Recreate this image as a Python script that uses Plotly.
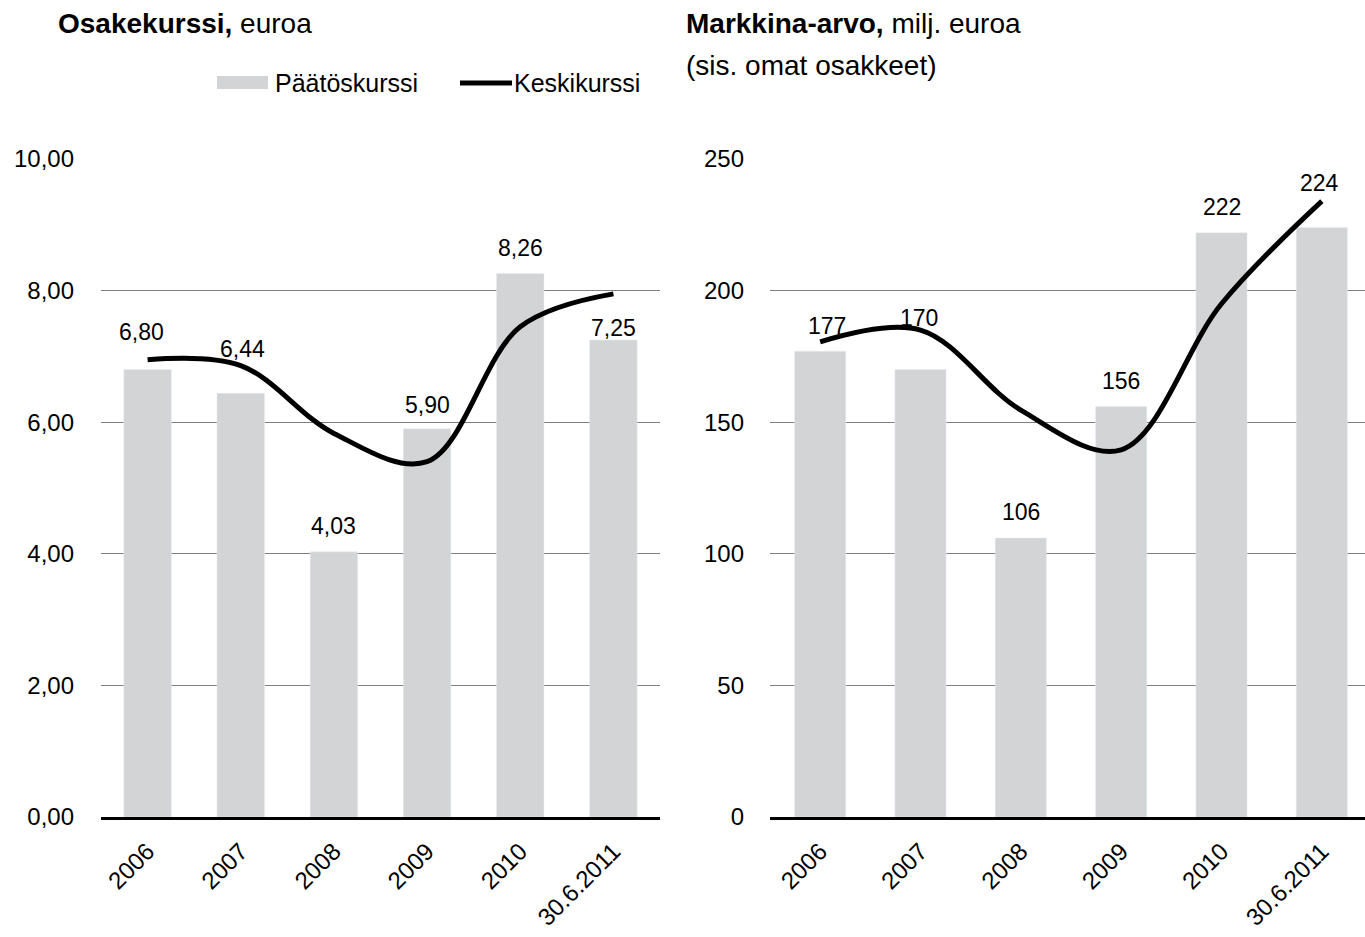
import plotly.graph_objects as go

# ---------------- data ----------------
categories = ["2006", "2007", "2008", "2009", "2010", "30.6.2011"]
closing_price = [6.80, 6.44, 4.03, 5.90, 8.26, 7.25]          # Päätöskurssi
average_price = [6.95, 6.86, 5.83, 5.40, 7.45, 7.95]          # Keskikurssi
market_cap = [177, 170, 106, 156, 222, 224]                   # Markkina-arvo (bars)
market_cap_line = [180.5, 185.0, 154.6, 139.5, 195.0, 234.0]  # Markkina-arvo (line)
price_labels = ["6,80", "6,44", "4,03", "5,90", "8,26", "7,25"]
cap_labels = ["177", "170", "106", "156", "222", "224"]
price_tickvals = [0, 2, 4, 6, 8, 10]
price_ticktext = ["0,00", "2,00", "4,00", "6,00", "8,00", "10,00"]
cap_tickvals = [0, 50, 100, 150, 200, 250]
cap_ticktext = ["0", "50", "100", "150", "200", "250"]

# ---------------- styles ----------------
W, H = 1365, 937
TOP, BOTTOM = 159, 817
BAR_COLOR = "#d3d4d6"
GRID = "#7f7f7f"
FONT = "Liberation Sans, Arial, sans-serif"

# label offsets in pixels (dx, dy above bar top)
price_off = [(-6, 38), (2, 44), (0, 26), (0, 24), (0, 25), (0, 12)]
cap_off = [(7, 25), (-2, 52), (0, 26), (0, 25), (0, 26), (-2, 44)]


def py(p):  # pixel y -> paper y
    return (BOTTOM - p) / (BOTTOM - TOP)


def px(p):
    return p / W


fig = go.Figure()

fig.add_trace(go.Bar(x=categories, y=closing_price, marker_color=BAR_COLOR,
                     name="Päätöskurssi", xaxis="x", yaxis="y", showlegend=False))
fig.add_trace(go.Scatter(x=categories, y=average_price, mode="lines",
                         line=dict(color="black", width=5, shape="spline", smoothing=1.0),
                         name="Keskikurssi", xaxis="x", yaxis="y", showlegend=False))
fig.add_trace(go.Bar(x=categories, y=market_cap, marker_color=BAR_COLOR,
                     name="Markkina-arvo", xaxis="x2", yaxis="y2", showlegend=False))
fig.add_trace(go.Scatter(x=categories, y=market_cap_line, mode="lines",
                         line=dict(color="black", width=5, shape="spline", smoothing=1.0),
                         name="Markkina-arvo, keskim.", xaxis="x2", yaxis="y2", showlegend=False))

annotations = []
for i, (v, t, (dx, dy)) in enumerate(zip(closing_price, price_labels, price_off)):
    annotations.append(dict(x=i, y=v, xref="x", yref="y", text=t, showarrow=False,
                            xshift=dx, yshift=dy, yanchor="middle",
                            font=dict(family=FONT, size=23, color="black")))
for i, (v, t, (dx, dy)) in enumerate(zip(market_cap, cap_labels, cap_off)):
    annotations.append(dict(x=i, y=v, xref="x2", yref="y2", text=t, showarrow=False,
                            xshift=dx, yshift=dy, yanchor="middle",
                            font=dict(family=FONT, size=23, color="black")))

# titles
annotations.append(dict(x=px(56), y=py(23), xref="paper", yref="paper", xanchor="left",
                        yanchor="middle", showarrow=False,
                        text="<b>Osakekurssi,</b> euroa",
                        font=dict(family=FONT, size=28, color="black")))
annotations.append(dict(x=px(684), y=py(23), xref="paper", yref="paper", xanchor="left",
                        yanchor="middle", showarrow=False,
                        text="<b>Markkina-arvo,</b> milj. euroa",
                        font=dict(family=FONT, size=28, color="black")))
annotations.append(dict(x=px(684), y=py(65), xref="paper", yref="paper", xanchor="left",
                        yanchor="middle", showarrow=False,
                        text="(sis. omat osakkeet)",
                        font=dict(family=FONT, size=28, color="black")))
# legend texts
annotations.append(dict(x=px(273), y=py(83), xref="paper", yref="paper", xanchor="left",
                        yanchor="middle", showarrow=False, text="Päätöskurssi",
                        font=dict(family=FONT, size=25, color="black")))
annotations.append(dict(x=px(512), y=py(83), xref="paper", yref="paper", xanchor="left",
                        yanchor="middle", showarrow=False, text="Keskikurssi",
                        font=dict(family=FONT, size=25, color="black")))

shapes = [
    dict(type="rect", xref="paper", yref="paper", x0=px(217), x1=px(268),
         y0=py(89), y1=py(76), fillcolor=BAR_COLOR, line=dict(width=0)),
    dict(type="line", xref="paper", yref="paper", x0=px(460), x1=px(512),
         y0=py(83), y1=py(83), line=dict(color="black", width=5)),
]

axis_common = dict(showline=False, zeroline=False, ticks="", showgrid=True,
                   gridcolor=GRID, gridwidth=1)

fig.update_layout(
    width=W, height=H,
    margin=dict(l=0, r=0, t=TOP, b=H - BOTTOM, pad=0),
    paper_bgcolor="white", plot_bgcolor="white",
    bargap=0.49,
    showlegend=False,
    xaxis=dict(type="category", domain=[px(101), px(660)], range=[-0.5, 5.5], anchor="y",
               tickangle=-45, showgrid=False, showline=True, linecolor="black",
               linewidth=2.5, ticks="", tickfont=dict(family=FONT, size=24, color="black"),
               ticklabelstandoff=8),
    yaxis=dict(domain=[0, 1], range=[0, 10], anchor="x", tickvals=price_tickvals,
               ticktext=price_ticktext, ticklabelstandoff=26,
               tickfont=dict(family=FONT, size=24, color="black"), **axis_common),
    xaxis2=dict(type="category", domain=[px(770), 1.0], range=[-0.5, 5.5 - 7 / 100.4],
                anchor="y2", tickangle=-45, showgrid=False, showline=True, linecolor="black",
                linewidth=2.5, ticks="", tickfont=dict(family=FONT, size=24, color="black"),
                ticklabelstandoff=8),
    yaxis2=dict(domain=[0, 1], range=[0, 250], anchor="x2", tickvals=cap_tickvals,
                ticktext=cap_ticktext, ticklabelstandoff=25,
                tickfont=dict(family=FONT, size=24, color="black"), **axis_common),
    annotations=annotations,
    shapes=shapes,
)

fig.write_html("out.html", config={"displayModeBar": False},
               post_script="document.body.style.margin='0';")
